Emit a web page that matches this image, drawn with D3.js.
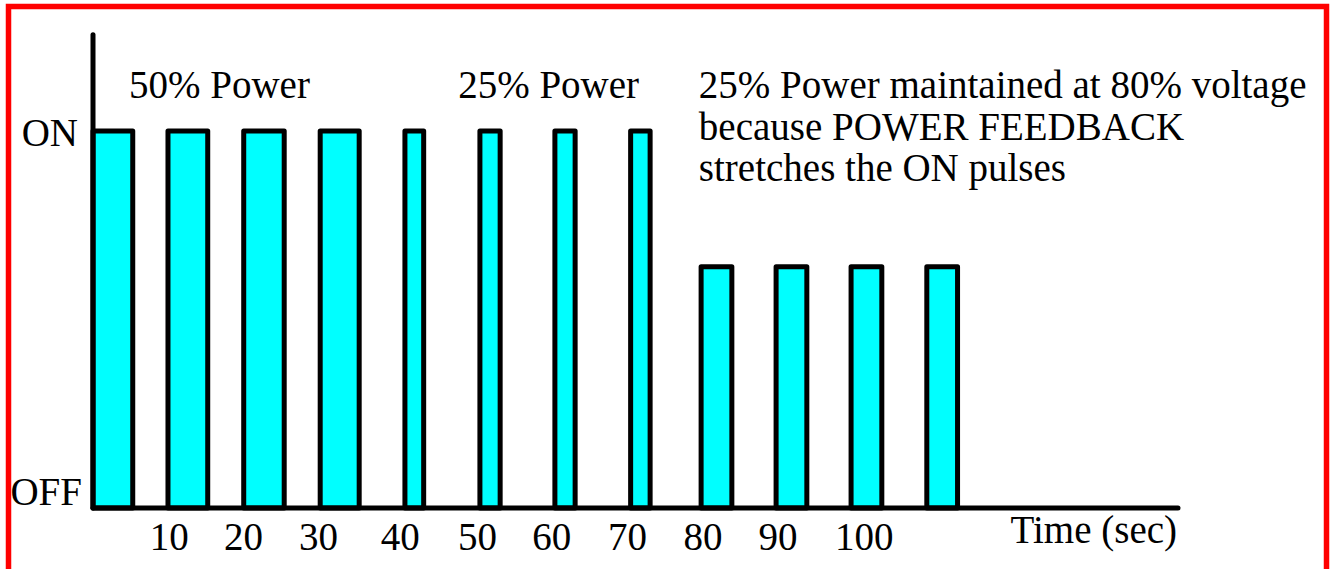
<!DOCTYPE html>
<html>
<head>
<meta charset="utf-8">
<script src="https://cdn.jsdelivr.net/npm/d3@7"></script>
<style>
  html, body { margin: 0; padding: 0; background: #fff; }
  svg { display: block; }
  text { font-family: "Liberation Serif", "Times New Roman", serif; fill: #000; }
</style>
</head>
<body>
<svg id="chart" width="1333" height="569"></svg>
<script>
// Pulse train, times in seconds, level as fraction of full ON voltage
const pulseStart = [0, 10, 20.1, 30.3, 41.6, 51.6, 61.6, 71.7, 81.1, 91.1, 101.1, 111.2];
const pulseEnd   = [5.3, 15.3, 25.5, 35.5, 44.1, 54.3, 64.3, 74.3, 85.2, 95.2, 105.2, 115.3];
const pulseLevel = [1, 1, 1, 1, 1, 1, 1, 1, 0.64, 0.64, 0.64, 0.64];

// Time tick labels, as they sit along the axis
const tickTimes  = [10.1, 20, 30, 40.9, 51.2, 61.1, 71.2, 81.3, 91.3, 102.8];
const tickLabels = ["10", "20", "30", "40", "50", "60", "70", "80", "90", "100"];

const levelTicks  = [0, 1];
const levelLabels = ["OFF", "ON"];

const notes = [
  { t: 4.8, lines: ["50% Power"] },
  { t: 48.7, lines: ["25% Power"] },
  { t: 80.8, lines: ["25% Power maintained at 80% voltage", "because POWER FEEDBACK", "stretches the ON pulses"] }
];

const INK = "#000";
const FILL = "#00ffff";
const FONT_SIZE = 39;

const svg = d3.select("#chart");

// red frame
svg.append("rect")
  .attr("x", 8.5).attr("y", 6.5)
  .attr("width", 1318).attr("height", 620)
  .attr("fill", "none")
  .attr("stroke", "#ff0000")
  .attr("stroke-width", 5.5);

const x = d3.scaleLinear().domain([0, 144.7]).range([93, 1178]);
const y = d3.scaleLinear().domain([0, 1]).range([508, 131]);
const yTop = 1.255;

const pulses = pulseStart.map((s, i) => ({ start: s, end: pulseEnd[i], level: pulseLevel[i] }));

// pulses
svg.append("g")
  .selectAll("rect")
  .data(pulses)
  .join("rect")
  .attr("x", d => x(d.start))
  .attr("y", d => y(d.level))
  .attr("width", d => x(d.end) - x(d.start))
  .attr("height", d => y(0) - y(d.level))
  .attr("fill", FILL)
  .attr("stroke", INK)
  .attr("stroke-width", 5)
  .attr("stroke-linejoin", "round");

// axes lines
svg.append("line")
  .attr("x1", x(0)).attr("x2", x(0))
  .attr("y1", y(yTop)).attr("y2", y(0))
  .attr("stroke", INK).attr("stroke-width", 5).attr("stroke-linecap", "round");

svg.append("line")
  .attr("x1", x(0)).attr("x2", x.range()[1])
  .attr("y1", y(0)).attr("y2", y(0))
  .attr("stroke", INK).attr("stroke-width", 5).attr("stroke-linecap", "round");

// x tick labels
const xAxis = d3.axisBottom(x)
  .tickValues(tickTimes)
  .tickFormat((d, i) => tickLabels[i])
  .tickSize(0)
  .tickPadding(0);

const gx = svg.append("g")
  .attr("transform", `translate(0,${y(0)})`)
  .call(xAxis);
gx.select(".domain").remove();
gx.selectAll("text")
  .attr("font-size", FONT_SIZE)
  .attr("font-family", null)
  .attr("y", 42)
  .attr("dy", null);

// ON / OFF labels
svg.append("g")
  .selectAll("text")
  .data(levelTicks)
  .join("text")
  .attr("x", d => d === 0 ? 82 : 78)
  .attr("y", d => y(d) + (d === 0 ? -3 : 15))
  .attr("text-anchor", "end")
  .attr("font-size", FONT_SIZE)
  .text((d, i) => levelLabels[i]);

svg.append("text")
  .attr("x", 1177)
  .attr("y", 543)
  .attr("text-anchor", "end")
  .attr("font-size", FONT_SIZE)
  .text("Time (sec)");

// annotations
notes.forEach(n => {
  const t = svg.append("text")
    .attr("x", x(n.t))
    .attr("y", 98)
    .attr("font-size", FONT_SIZE);
  n.lines.forEach((line, i) => {
    t.append("tspan")
      .attr("x", x(n.t))
      .attr("dy", i === 0 ? 0 : 41.5)
      .text(line);
  });
});
</script>
</body>
</html>
